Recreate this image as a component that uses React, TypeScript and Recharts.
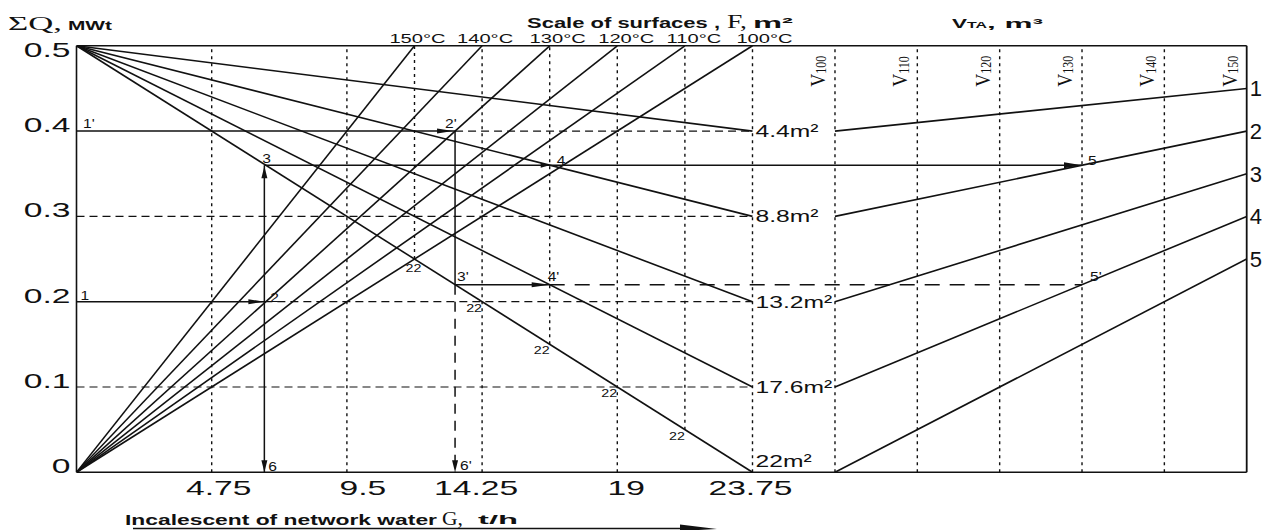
import React from 'react';
import { ComposedChart, Line, XAxis, YAxis, ReferenceLine, ReferenceDot } from 'recharts';

// ---------- data ----------
const G_TICKS = [4.75, 9.5, 14.25, 19, 23.75];
const Q_TICKS = [0, 0.1, 0.2, 0.3, 0.4, 0.5];
const Q_MAX = 0.5;
const G_SCALE_END = 23.75;

const TEMPERATURES = ['150°C', '140°C', '130°C', '120°C', '110°C', '100°C'];
const TEMP_G_AT_TOP = [11.875, 14.25, 16.625, 19, 21.375, 23.75];

const SURFACES = ['4.4m²', '8.8m²', '13.2m²', '17.6m²', '22m²'];
const SURFACE_Q = [0.4, 0.3, 0.2, 0.1, 0];

const VOLUMES = ['100', '110', '120', '130', '140', '150'];
const VOLUME_G = [26.648, 29.541, 32.434, 35.327, 38.22, 41.113];
const VOLUME_END_Q = [0.45, 0.4, 0.35, 0.3, 0.25];
const VOLUME_LINE_LABELS = ['1', '2', '3', '4', '5'];
const G_MAX = VOLUME_G[VOLUME_G.length - 1];

const FULL_GRID_G = [4.75, 9.5, 14.25, 19, 23.75];
const HALF_GRID_G = [11.875, 16.625, 21.375];
const HALF_GRID_END_Q = [0.25, 0.15, 0.05];
const MARK22_G = [11.875, 14.25, 16.625, 19, 21.375];
const MARK22_Q = [0.25, 0.2, 0.15, 0.1, 0.05];

// worked example: G positions and Q levels
const EX_G = [6.6, 13.3, 16.625, 35.327]; // points 2/3/6, 2'/3'/6', 4/4', 5/5'
const EX_Q = [0.2, 0.36, 0.4, 0.22]; // 1-2, 3-4-5, 1'-2', 3'-4'-5'

// ---------- style ----------
const SANS = '"Liberation Sans", Arial, Helvetica, sans-serif';
const SERIF = '"Liberation Serif", "Times New Roman", serif';
const INK = '#111';
const X_TICK_DX = [7, 16, -6, 9, -2];
const TEMP_LABEL_DX = [3, 3, 8, 9, 9, 12];

const T = (
  x: number,
  y: number,
  s: string,
  o: { size?: number; sx?: number; anchor?: any; weight?: any; family?: string } = {}
) => (
  <text
    transform={`translate(${x},${y}) scale(${o.sx ?? 1},1)`}
    x={0}
    y={0}
    textAnchor={o.anchor ?? 'start'}
    fontSize={o.size ?? 12}
    fontWeight={o.weight ?? 'normal'}
    fontFamily={o.family ?? SANS}
    fill={INK}
  >
    {s}
  </text>
);

const YTick = (p: any) => {
  const v = p.payload.value;
  const label = v === 0 ? '0' : v.toFixed(1);
  const dy = v === 0.5 ? 11 : 1;
  return T(p.x - 6, p.y + dy, label, { size: 21, sx: 1.6, anchor: 'end' });
};

const XTick = (p: any) => {
  const i = G_TICKS.indexOf(p.payload.value);
  return T(p.x + (X_TICK_DX[i] ?? 0), p.y + 23, String(p.payload.value), { size: 21, sx: 1.6, anchor: 'middle' });
};

const seg = (key: string, g0: number, q0: number, g1: number, q1: number, w: number, dash?: string) => (
  <ReferenceLine
    key={key}
    segment={[{ x: g0, y: q0 }, { x: g1, y: q1 }]}
    stroke={INK}
    strokeWidth={w}
    strokeDasharray={dash}
    ifOverflow="visible"
  />
);

const mark = (key: string, g: number, q: number, render: (cx: number, cy: number) => any) => (
  <ReferenceDot
    key={key}
    x={g}
    y={q}
    r={0}
    ifOverflow="visible"
    shape={(p: any) => <g>{render(p.cx, p.cy)}</g>}
  />
);

const arrowPath = (cx: number, cy: number, dir: string, len = 13, half = 3) => {
  let d = '';
  if (dir === 'r') d = `M${cx},${cy}L${cx - len},${cy - half}L${cx - len},${cy + half}Z`;
  if (dir === 'u') d = `M${cx},${cy}L${cx - half},${cy + len}L${cx + half},${cy + len}Z`;
  if (dir === 'd') d = `M${cx},${cy}L${cx - half},${cy - len}L${cx + half},${cy - len}Z`;
  return <path d={d} fill={INK} />;
};

const lineSeries = (key: string, pts: { g: number; q: number }[], w = 1.6) => (
  <Line
    key={key}
    data={pts}
    dataKey="q"
    type="linear"
    stroke={INK}
    strokeWidth={w}
    dot={false}
    activeDot={false}
    isAnimationActive={false}
    legendType="none"
  />
);

export default function App() {
  const [gA, gB, g4, g5] = EX_G;
  const [q12, q345, q12p, q345p] = EX_Q;

  const grid = [
    ...FULL_GRID_G.map((g, i) => seg('vg' + i, g, 0, g, Q_MAX, 1.4, '3 4')),
    ...HALF_GRID_G.map((g, i) => seg('vh' + i, g, HALF_GRID_END_Q[i], g, Q_MAX, 1.4, '3 4')),
    ...VOLUME_G.slice(0, 5).map((g, i) => seg('vv' + i, g, 0, g, Q_MAX, 1.4, '3 4')),
    seg('h1', 0, 0.1, G_SCALE_END, 0.1, 1.2, '8 5'),
    seg('h3', 0, 0.3, G_SCALE_END, 0.3, 1.2, '8 5'),
    seg('h2', gA, q12, G_SCALE_END, q12, 1.2, '8 5'),
    seg('h4', gB, q12p, G_SCALE_END, q12p, 1.2, '8 5'),
  ];

  const frame = [
    seg('ft', 0, Q_MAX, G_MAX, Q_MAX, 1.6),
    seg('fb', 0, 0, G_MAX, 0, 1.6),
    seg('fl', 0, 0, 0, Q_MAX, 1.6),
    seg('fr', G_MAX, 0, G_MAX, Q_MAX, 1.8),
  ];

  const example = [
    seg('e1', 0, q12, gA, q12, 1.5),
    seg('e2', gA, 0, gA, q345, 1.5),
    seg('e3', gA, q345, g5, q345, 1.5),
    seg('e4', 0, q12p, gB, q12p, 1.5),
    seg('e5', gB, q12p, gB, q345p, 1.5),
    seg('e6', gB, q345p, gB, 0, 1.5, '10 7'),
    seg('e7', gB, q345p, g4, q345p, 1.5),
    seg('e8', g4, q345p, g5, q345p, 1.5, '15 10'),
  ];

  const arrows = [
    mark('a1', gA, q12, (x, y) => arrowPath(x, y, 'r', 16, 2.5)),
    mark('a2', gA, q345, (x, y) => arrowPath(x, y + 1, 'u', 12, 3)),
    mark('a3', gA, 0, (x, y) => arrowPath(x, y, 'd', 12, 3)),
    mark('a4', gB, q12p, (x, y) => arrowPath(x - 2, y, 'r', 16, 2.5)),
    mark('a5', g4, q345p, (x, y) => arrowPath(x, y, 'r', 18, 2.5)),
    mark('a6', g4, q345, (x, y) => arrowPath(x, y, 'r', 9, 2.5)),
    mark('a7', g5, q345, (x, y) => arrowPath(x, y, 'r', 18, 3)),
    mark('a8', gB, 0, (x, y) => arrowPath(x, y, 'd', 12, 3)),
  ];

  const pt = { size: 12, sx: 1.3 };
  const pointLabels = [
    mark('p1', 0, q12, (x, y) => T(x + 4, y - 1.5, '1', pt)),
    mark('p1p', 0, q12p, (x, y) => T(x + 6.5, y - 3, "1'", pt)),
    mark('p2', gA, q12, (x, y) => T(x + 6, y, '2', pt)),
    mark('p3', gA, q345, (x, y) => T(x - 2, y - 2, '3', pt)),
    mark('p2p', gB, q12p, (x, y) => T(x - 10, y - 3, "2'", pt)),
    mark('p3p', gB, q345p, (x, y) => T(x + 2, y - 4, "3'", pt)),
    mark('p4', g4, q345, (x, y) => T(x + 7, y, '4', pt)),
    mark('p4p', g4, q345p, (x, y) => T(x - 2, y - 4, "4'", pt)),
    mark('p5', g5, q345, (x, y) => T(x + 6, y, '5', pt)),
    mark('p5p', g5, q345p, (x, y) => T(x + 8, y - 4, "5'", pt)),
    mark('p6', gA, 0, (x, y) => T(x + 4, y - 1, '6', pt)),
    mark('p6p', gB, 0, (x, y) => T(x + 5, y - 2, "6'", pt)),
  ];

  const marks22 = MARK22_G.map((g, i) =>
    mark('m22' + i, g, MARK22_Q[i], (x, y) => T(x + (i === 0 ? -1 : -8), y + (i === 0 ? 13 : 10), '22', { size: 11, sx: 1.3, anchor: 'middle' }))
  );

  const tempLabels = TEMPERATURES.map((t, i) =>
    mark('t' + i, TEMP_G_AT_TOP[i], Q_MAX, (x, y) => T(x + TEMP_LABEL_DX[i], y - 3, t, { size: 13, sx: 1.55, anchor: 'middle' }))
  );

  const surfaceLabels = SURFACES.map((s, i) =>
    mark('s' + i, G_SCALE_END, SURFACE_Q[i], (x, y) => T(x + 3, SURFACE_Q[i] === 0 ? y - 5 : y + 6, s, { size: 17, sx: 1.45 }))
  );

  const volumeLabels = VOLUMES.map((v, i) =>
    mark('v' + i, VOLUME_G[i], Q_MAX, (x, y) => (
      <text transform={`translate(${x - 10},${y + 41}) scale(1.2,1) rotate(-90)`} fontFamily={SERIF} fill={INK}>
        <tspan fontSize={18}>V</tspan>
        <tspan fontSize={12} dy={1}>{v}</tspan>
      </text>
    ))
  );

  const endLabels = VOLUME_LINE_LABELS.map((s, i) =>
    mark('n' + i, G_MAX, VOLUME_END_Q[i], (x, y) => T(x + 3, y + 8, s, { size: 22, sx: 1.0 }))
  );

  const fLines = SURFACE_Q.map((q, i) => lineSeries('f' + i, [{ g: 0, q: Q_MAX }, { g: G_SCALE_END, q }]));
  const tLines = TEMP_G_AT_TOP.map((g, i) => lineSeries('t' + i, [{ g: 0, q: 0 }, { g, q: Q_MAX }]));
  const vLines = SURFACE_Q.map((q, i) => lineSeries('v' + i, [{ g: VOLUME_G[0], q }, { g: G_MAX, q: VOLUME_END_Q[i] }]));

  return (
    <div style={{ position: 'absolute', left: 0, top: 0, width: 1264, height: 530, overflow: 'hidden', background: '#fff' }}>
      <ComposedChart width={1264} height={530} margin={{ top: 45.8, right: 17.3, bottom: 27.7, left: 16.5 }}>
        <XAxis
          dataKey="g"
          type="number"
          domain={[0, G_MAX]}
          ticks={G_TICKS}
          interval={0}
          allowDataOverflow
          axisLine={false}
          tickLine={false}
          tickSize={0}
          tickMargin={0}
          height={30}
          tick={XTick}
        />
        <YAxis
          type="number"
          domain={[0, Q_MAX]}
          ticks={Q_TICKS}
          interval={0}
          allowDataOverflow
          axisLine={false}
          tickLine={false}
          tickSize={0}
          tickMargin={0}
          width={60}
          tick={YTick}
        />
        {grid}
        {frame}
        {fLines}
        {tLines}
        {vLines}
        {example}
        {arrows}
        {pointLabels}
        {marks22}
        {tempLabels}
        {surfaceLabels}
        {volumeLabels}
        {endLabels}
      </ComposedChart>
      <svg width={1264} height={530} style={{ position: 'absolute', left: 0, top: 0, pointerEvents: 'none' }}>
        <text x={8} y={30} fontFamily={SERIF} fontSize={19} textLength={54} lengthAdjust="spacingAndGlyphs" fill={INK}>ΣQ,</text>
        <text x={68} y={29.5} fontFamily={SANS} fontWeight="bold" fontSize={12.5} textLength={44} lengthAdjust="spacingAndGlyphs" fill={INK}>MWt</text>
        <text x={527} y={27.5} fontFamily={SANS} fontWeight="bold" fontSize={15} textLength={193} lengthAdjust="spacingAndGlyphs" fill={INK}>Scale of surfaces ,</text>
        <text x={727} y={27.5} fontFamily={SERIF} fontSize={18} textLength={20} lengthAdjust="spacingAndGlyphs" fill={INK}>F,</text>
        <text x={753} y={27.5} fontFamily={SANS} fontWeight="bold" fontSize={14} textLength={40} lengthAdjust="spacingAndGlyphs" fill={INK}>m²</text>
        <text x={952} y={28} fontFamily={SANS} fontWeight="bold" fontSize={13} textLength={15} lengthAdjust="spacingAndGlyphs" fill={INK}>V</text>
        <text x={967} y={28} fontFamily={SANS} fontWeight="bold" fontSize={9} textLength={20} lengthAdjust="spacingAndGlyphs" fill={INK}>TA</text>
        <text x={987} y={28} fontFamily={SANS} fontWeight="bold" fontSize={13} textLength={56} lengthAdjust="spacingAndGlyphs" fill={INK}>, m³</text>
        <text x={125} y={525} fontFamily={SANS} fontWeight="bold" fontSize={15.5} textLength={312} lengthAdjust="spacingAndGlyphs" fill={INK}>Incalescent of network water</text>
        <text x={442} y={525} fontFamily={SERIF} fontSize={19} textLength={21} lengthAdjust="spacingAndGlyphs" fill={INK}>G,</text>
        <text x={478} y={524} fontFamily={SANS} fontWeight="bold" fontSize={12.5} textLength={40} lengthAdjust="spacingAndGlyphs" fill={INK}>t/h</text>
        <line x1={133} y1={528.5} x2={680} y2={528.5} stroke={INK} strokeWidth={1.5} />
        <path d="M680,524.5L717,529L680,531Z" fill={INK} />
      </svg>
    </div>
  );
}
